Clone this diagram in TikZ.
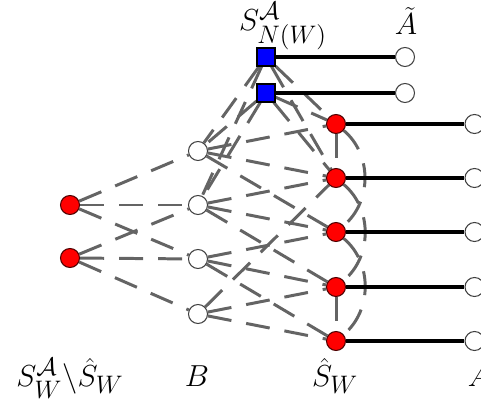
\documentclass[tikz,border=0pt]{standalone}
\usepackage{amsmath,amssymb}
\usepackage{xcolor}
\usepackage{tikz}
\usetikzlibrary{backgrounds}
\DeclareMathSizes{17.28}{17.28}{14}{11}
\definecolor{egray}{RGB}{100,100,100}
\definecolor{sred}{RGB}{255,0,0}
\definecolor{qblue}{RGB}{0,0,255}
\tikzset{
  sdot/.style ={circle, draw=sred!30!black, fill=sred, inner sep=0pt,
                minimum size=0.38cm, line width=0.6pt},
  odot/.style ={circle, draw=black!75, fill=white, inner sep=0pt,
                minimum size=0.38cm, line width=0.6pt},
  qbox/.style ={rectangle, draw=black, fill=qblue, inner sep=0pt,
                minimum size=0.36cm, line width=0.6pt},
  dsh/.style  ={draw=egray, line width=1.7pt, dash pattern=on 0.48cm off 0.3cm},
  tie/.style  ={draw=black, line width=1.8pt},
  lbl/.style  ={font=\LARGE, anchor=base}
}

\begin{document}
\begin{tikzpicture}
\useasboundingbox (0,0) rectangle (9.62,-8.24);

% left column
\node[sdot] (l1) at (1.40,-4.10) {};
\node[sdot] (l2) at (1.40,-5.16) {};
% B column
\node[odot] (b1) at (3.96,-3.02) {};
\node[odot] (b2) at (3.96,-4.10) {};
\node[odot] (b3) at (3.96,-5.18) {};
\node[odot] (b4) at (3.96,-6.28) {};
% hat S column
\node[sdot] (h1) at (6.72,-2.48) {};
\node[sdot] (h2) at (6.72,-3.56) {};
\node[sdot] (h3) at (6.72,-4.64) {};
\node[sdot] (h4) at (6.72,-5.74) {};
\node[sdot] (h5) at (6.72,-6.82) {};
% neighbours
\node[qbox] (q1) at (5.32,-1.14) {};
\node[qbox] (q2) at (5.32,-1.86) {};
% tilde A and A
\node[odot] (t1) at (8.10,-1.14) {};
\node[odot] (t2) at (8.10,-1.86) {};
\node[odot] (a1) at (9.49,-2.48) {};
\node[odot] (a2) at (9.49,-3.56) {};
\node[odot] (a3) at (9.49,-4.64) {};
\node[odot] (a4) at (9.49,-5.74) {};
\node[odot] (a5) at (9.49,-6.82) {};

% labels
\node[lbl] (nlab) at (5.66,-0.61) {$S^{\mathcal{A}}_{N(W)}$};
\node[lbl] (tlab) at (8.12,-0.70) {$\tilde{A}$};
\node[lbl] (slab) at (1.40,-7.74) {$S^{\mathcal{A}}_W\backslash\hat{S}_W$};
\node[lbl] (blab) at (3.94,-7.74) {$B$};
\node[lbl] (hlab) at (6.70,-7.74) {$\hat{S}_W$};
\node[lbl] (alab) at (9.58,-7.74) {$A$};

\begin{scope}[on background layer]
\draw[dsh] (l1) -- (b1);
\draw[dsh] (l1) -- (b2);
\draw[dsh] (l1) -- (b3);
\draw[dsh] (l2) -- (b2);
\draw[dsh] (l2) -- (b3);
\draw[dsh] (l2) -- (b4);
\draw[dsh] (b1) -- (h1);
\draw[dsh] (b1) -- (h2);
\draw[dsh] (b1) -- (h3);
\draw[dsh] (b2) -- (h2);
\draw[dsh] (b2) -- (h3);
\draw[dsh] (b2) -- (h4);
\draw[dsh] (b3) -- (h3);
\draw[dsh] (b3) -- (h4);
\draw[dsh] (b3) -- (h5);
\draw[dsh] (b4) -- (h2);
\draw[dsh] (b4) -- (h4);
\draw[dsh] (b4) -- (h5);
\draw[dsh] (q1) -- (b1);
\draw[dsh] (q1) -- (b2);
\draw[dsh] (q2) -- (b1);
\draw[dsh] (q2) -- (b2);
\draw[dsh] (q1) -- (h1);
\draw[dsh] (q1) -- (h2);
\draw[dsh] (q2) -- (h1);
\draw[dsh] (q2) -- (h2);
\draw[dsh] (h1) -- (h2);
\draw[dsh] (h4) -- (h5);
\draw[dsh] (h1) to[bend left=50] (h3);
\draw[dsh] (h2) to[bend left=50] (h4);
\draw[dsh] (h3) to[bend left=50] (h5);
\end{scope}

\draw[tie] (q1) -- (t1);
\draw[tie] (q2) -- (t2);
\draw[tie] (h1) -- (a1);
\draw[tie] (h2) -- (a2);
\draw[tie] (h3) -- (a3);
\draw[tie] (h4) -- (a4);
\draw[tie] (h5) -- (a5);
\end{tikzpicture}
\end{document}
